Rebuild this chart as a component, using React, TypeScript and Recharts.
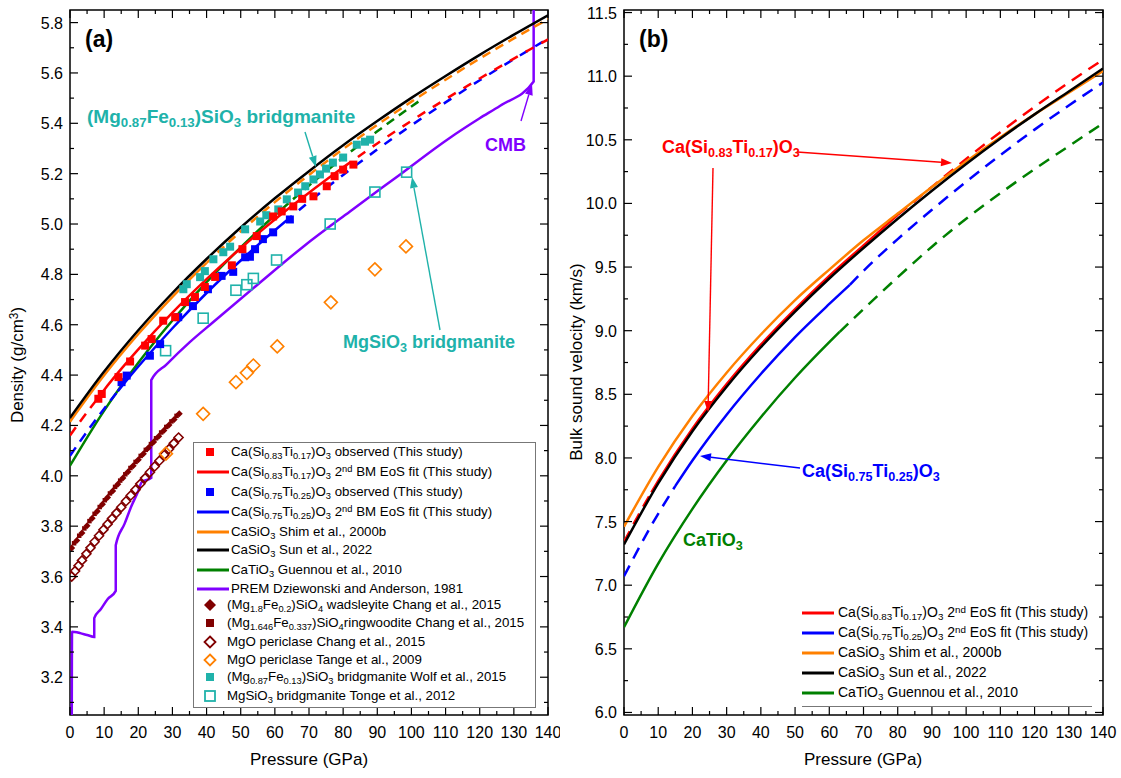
import React from 'react';
import { ComposedChart, Line, Scatter, XAxis, YAxis, ReferenceArea } from 'recharts';

type Pair = [number, number];
const FONT = '"Liberation Sans", Arial, Helvetica, sans-serif';

const RED = '#ff0000';
const BLUE = '#0000ff';
const ORANGE = '#ff8000';
const GREEN = '#008000';
const PURPLE = '#8000ff';
const TEAL = '#20b2aa';
const WINE = '#800000';

// ticks
const pTicks = [0, 5, 10, 15, 20, 25, 30, 35, 40, 45, 50, 55, 60, 65, 70, 75, 80, 85, 90, 95, 100, 105, 110, 115, 120, 125, 130, 135, 140];
const rhoTicks = [3.1, 3.2, 3.3, 3.4, 3.5, 3.6, 3.7, 3.8, 3.9, 4.0, 4.1, 4.2, 4.3, 4.4, 4.5, 4.6, 4.7, 4.8, 4.9, 5.0, 5.1, 5.2, 5.3, 5.4, 5.5, 5.6, 5.7, 5.8];
const vTicks = [6, 6.25, 6.5, 6.75, 7, 7.25, 7.5, 7.75, 8, 8.25, 8.5, 8.75, 9, 9.25, 9.5, 9.75, 10, 10.25, 10.5, 10.75, 11, 11.25, 11.5];

// ---------- (a) density (g/cm3) vs pressure (GPa) ----------
const sunRho: Pair[] = [[0, 4.23], [10, 4.414], [20, 4.578], [30, 4.726], [40, 4.861], [50, 4.986], [60, 5.102], [70, 5.21], [80, 5.313], [90, 5.409], [100, 5.501], [110, 5.588], [120, 5.672], [130, 5.752], [140, 5.829]];
const shimRhoSolid: Pair[] = [[0, 4.215], [10, 4.399], [20, 4.563], [30, 4.711], [40, 4.846]];
const shimRhoDash: Pair[] = [[40, 4.846], [50, 4.971], [60, 5.087], [70, 5.195], [80, 5.298], [90, 5.394], [100, 5.486], [110, 5.573], [120, 5.657], [130, 5.737], [140, 5.814]];
const ti17RhoLow: Pair[] = [[0, 4.16], [4, 4.235], [8, 4.305]];
const ti17RhoFit: Pair[] = [[8, 4.305], [10, 4.341], [20, 4.502], [30, 4.648], [40, 4.781], [50, 4.904], [60, 5.018], [70, 5.124], [80, 5.225]];
const ti17RhoHigh: Pair[] = [[80, 5.225], [90, 5.32], [100, 5.41], [110, 5.496], [120, 5.578], [130, 5.657], [140, 5.733]];
const ti25RhoLow: Pair[] = [[0, 4.08], [7, 4.213], [14, 4.336]];
const ti25RhoFit: Pair[] = [[14, 4.336], [20, 4.434], [30, 4.586], [40, 4.726], [50, 4.855], [60, 4.975], [65, 5.032]];
const ti25RhoHigh: Pair[] = [[65, 5.032], [70, 5.088], [80, 5.195], [90, 5.296], [100, 5.392], [110, 5.483], [120, 5.571], [130, 5.655], [140, 5.736]];
const catioRhoSolid: Pair[] = [[0, 4.04], [10, 4.259], [20, 4.449], [30, 4.617], [40, 4.769], [50, 4.907], [60, 5.035], [62, 5.059]];
const catioRhoDash: Pair[] = [[62, 5.059], [70, 5.153], [80, 5.264], [90, 5.368], [100, 5.467], [103, 5.495]];
const prem: Pair[] = [[0.5, 2.9], [0.6, 3.381], [2, 3.379], [3, 3.375], [5, 3.368], [7.1, 3.36], [7.1, 3.435], [9, 3.47], [11, 3.51], [13.4, 3.543], [13.4, 3.724], [16, 3.81], [18, 3.88], [20, 3.94], [21, 3.975], [23.8, 3.992], [23.8, 4.38], [28.3, 4.443], [35, 4.53], [41.9, 4.61], [55, 4.76], [68.3, 4.91], [82, 5.05], [96, 5.19], [111, 5.34], [120, 5.42], [126, 5.47], [135.8, 5.566], [135.8, 6.5]];

const ti17Obs: Pair[] = [[8.3, 4.306], [9.3, 4.325], [14.2, 4.392], [17.6, 4.454], [22, 4.517], [23.9, 4.543], [27.3, 4.616], [30.8, 4.63], [33.7, 4.69], [36.6, 4.71], [39.5, 4.75], [42.5, 4.79], [47.4, 4.836], [50.5, 4.9], [54.7, 4.952], [59.5, 5.03], [62, 5.05], [65.4, 5.07], [68, 5.1], [71.3, 5.11], [75.2, 5.15], [77.5, 5.19], [80, 5.216], [83, 5.236]];
const ti25Obs: Pair[] = [[15.1, 4.372], [16.6, 4.398], [23.4, 4.477], [26.4, 4.523], [31.7, 4.63], [36, 4.674], [40.4, 4.741], [44.4, 4.794], [47.8, 4.81], [51.3, 4.868], [52.7, 4.87], [54.2, 4.9], [56.5, 4.94], [59.5, 4.967], [64.4, 5.018]];
const wadsleyite: Pair[] = [[0.5, 3.713], [2, 3.743], [3.5, 3.773], [5, 3.802], [6.5, 3.831], [8, 3.859], [9.5, 3.887], [11, 3.914], [12.5, 3.94], [14, 3.966], [15.5, 3.991], [17, 4.016], [18.5, 4.04], [20, 4.064], [21.5, 4.088], [23, 4.111], [24.5, 4.134], [26, 4.157], [27.5, 4.18], [29, 4.202], [30.5, 4.224], [32, 4.246]];
const ringwoodite: Pair[] = [[1.2, 3.732], [2.7, 3.762], [4.2, 3.791], [5.7, 3.82], [7.2, 3.849], [8.7, 3.876], [10.2, 3.903], [11.7, 3.93], [13.2, 3.956], [14.7, 3.981], [16.2, 4.006], [17.7, 4.031], [19.2, 4.055], [20.7, 4.079], [22.2, 4.103], [23.7, 4.126], [25.2, 4.149], [26.7, 4.172], [28.2, 4.194], [29.7, 4.216], [31.2, 4.238]];
const mgoChang: Pair[] = [[0.5, 3.6], [1.5, 3.622], [2.5, 3.643], [3.5, 3.664], [4.8, 3.69], [6, 3.714], [7.2, 3.738], [8.5, 3.762], [9.8, 3.786], [11, 3.808], [12.3, 3.83], [13.6, 3.852], [15, 3.875], [16.4, 3.899], [17.8, 3.922], [19.2, 3.945], [20.6, 3.968], [22, 3.991], [23.4, 4.014], [24.8, 4.037], [26.2, 4.06], [27.6, 4.083], [29, 4.106], [30.4, 4.129], [31.8, 4.152]];
const mgoTange: Pair[] = [[28.1, 4.088], [39, 4.246], [48.6, 4.372], [51.8, 4.409], [53.7, 4.438], [60.7, 4.514], [76.4, 4.689], [89.3, 4.82], [98.4, 4.911]];
const bdgWolf: Pair[] = [[33.2, 4.741], [34.2, 4.761], [38.1, 4.789], [39.5, 4.813], [42, 4.86], [44.9, 4.888], [46.9, 4.91], [51.3, 4.979], [55.7, 5.01], [57.5, 5.035], [61, 5.058], [63.5, 5.098], [66.8, 5.125], [68.9, 5.15], [71.3, 5.177], [73.2, 5.197], [75, 5.22], [77, 5.244], [80, 5.264], [84, 5.315], [86.4, 5.327], [87.9, 5.335]];
const bdgTonge: Pair[] = [[28, 4.497], [39, 4.626], [48.6, 4.737], [51.8, 4.759], [53.7, 4.784], [60.5, 4.857], [76.2, 5.0], [89.3, 5.127], [98.6, 5.206]];

// ---------- (b) bulk sound velocity (km/s) vs pressure (GPa) ----------
const sunV: Pair[] = [[0, 7.32], [10, 7.8], [20, 8.21], [30, 8.56], [40, 8.87], [50, 9.15], [60, 9.41], [70, 9.65], [80, 9.88], [90, 10.1], [100, 10.31], [110, 10.51], [120, 10.7], [130, 10.88], [140, 11.06]];
const shimV: Pair[] = [[0, 7.46], [10, 7.93], [20, 8.33], [30, 8.67], [40, 8.97], [50, 9.24], [60, 9.48], [70, 9.71], [80, 9.92], [90, 10.13], [100, 10.33], [110, 10.52], [120, 10.7], [130, 10.87], [140, 11.04]];
const ti17VLow: Pair[] = [[0, 7.34], [4, 7.54], [8, 7.73]];
const ti17VFit: Pair[] = [[8, 7.73], [10, 7.82], [20, 8.23], [30, 8.58], [40, 8.89], [50, 9.17], [60, 9.43], [70, 9.67], [80, 9.91]];
const ti17VHigh: Pair[] = [[80, 9.91], [90, 10.13], [100, 10.35], [110, 10.56], [120, 10.76], [130, 10.95], [140, 11.13]];
const ti25VLow: Pair[] = [[0, 7.07], [8, 7.47], [15, 7.78]];
const ti25VFit: Pair[] = [[15, 7.78], [20, 7.98], [30, 8.34], [40, 8.66], [50, 8.95], [60, 9.21], [66, 9.36]];
const ti25VHigh: Pair[] = [[66, 9.36], [70, 9.47], [80, 9.72], [90, 9.95], [100, 10.17], [110, 10.38], [120, 10.58], [130, 10.77], [140, 10.95]];
const catioVSolid: Pair[] = [[0, 6.67], [10, 7.17], [20, 7.6], [30, 7.98], [40, 8.32], [50, 8.63], [60, 8.91], [63, 8.99]];
const catioVDash: Pair[] = [[63, 8.99], [70, 9.17], [80, 9.42], [90, 9.66], [100, 9.88], [110, 10.08], [120, 10.27], [130, 10.45], [140, 10.63]];

const xy = (a: Pair[]) => a.map(([x, y]) => ({ x, y }));

const PLOT_TOP = 10;

const xTick = (top: number) => (p: any) => {
  const v = p.payload.value;
  const major = v % 10 === 0;
  const len = major ? 8 : 4;
  return (
    <g>
      <line x1={p.x} x2={p.x} y1={p.y} y2={p.y - len} stroke="#000" strokeWidth={1.2} />
      <line x1={p.x} x2={p.x} y1={top} y2={top + len} stroke="#000" strokeWidth={1.2} />
      {major && (
        <text x={p.x} y={p.y + 23} textAnchor="middle" fontSize={16} fontFamily={FONT} fill="#000">
          {v}
        </text>
      )}
    </g>
  );
};

const yTick = (right: number, step: number) => (p: any) => {
  const v = p.payload.value;
  const major = Math.round(v / step) % 2 === 0;
  const len = major ? 8 : 4;
  return (
    <g>
      <line x1={p.x} x2={p.x + len} y1={p.y} y2={p.y} stroke="#000" strokeWidth={1.2} />
      <line x1={right} x2={right - len} y1={p.y} y2={p.y} stroke="#000" strokeWidth={1.2} />
      {major && (
        <text x={p.x - 7} y={p.y + 6} textAnchor="end" fontSize={16} fontFamily={FONT} fill="#000">
          {v.toFixed(1)}
        </text>
      )}
    </g>
  );
};

const sq = (color: string, s: number, filled = true) => (p: any) => (
  <rect x={p.cx - s / 2} y={p.cy - s / 2} width={s} height={s} fill={filled ? color : 'none'} stroke={color} strokeWidth={filled ? 0 : 1.6} />
);
const dia = (color: string, r: number, filled = true) => (p: any) => (
  <polygon
    points={`${p.cx},${p.cy - r} ${p.cx + r},${p.cy} ${p.cx},${p.cy + r} ${p.cx - r},${p.cy}`}
    fill={filled ? color : 'none'}
    stroke={color}
    strokeWidth={filled ? 0 : 1.6}
  />
);

function curve(key: string, data: Pair[], color: string, dash?: string, offset?: number) {
  return (
    <Line
      key={key}
      data={xy(data)}
      dataKey="y"
      type="monotone"
      stroke={color}
      strokeWidth={2.5}
      strokeDasharray={dash}
      strokeDashoffset={offset}
      dot={false}
      activeDot={false}
      isAnimationActive={false}
    />
  );
}

function DensityPanel() {
  const W = 560;
  const right = W - 12;
  return (
    <ComposedChart width={W} height={778} margin={{ top: PLOT_TOP, right: 12, bottom: 0, left: 0 }}>
      <XAxis dataKey="x" type="number" domain={[0, 140]} ticks={pTicks} interval={0} allowDataOverflow height={63}
        axisLine={false} tickLine={false} tickSize={0} tickMargin={0} tick={xTick(PLOT_TOP)} />
      <YAxis type="number" domain={[3.05, 5.85]} ticks={rhoTicks} interval={0} allowDataOverflow width={70}
        axisLine={false} tickLine={false} tickSize={0} tickMargin={0} tick={yTick(right, 0.1)} />
      <ReferenceArea x1={0} x2={140} y1={3.05} y2={5.85} fill="none" stroke="#000" strokeWidth={1.5} ifOverflow="visible" />
      {curve('prem', prem, PURPLE)}
      {curve('catioS', catioRhoSolid, GREEN)}
      {curve('catioD', catioRhoDash, GREEN, '9 6')}
      {curve('shimS', shimRhoSolid, ORANGE)}
      {curve('shimD', shimRhoDash, ORANGE, '9 6')}
      {curve('sun', sunRho, '#000')}
      {curve('t25L', ti25RhoLow, BLUE, '10 7')}
      {curve('t25F', ti25RhoFit, BLUE)}
      {curve('t25H', ti25RhoHigh, BLUE, '9 9', 9)}
      {curve('t17L', ti17RhoLow, RED, '10 7')}
      {curve('t17F', ti17RhoFit, RED)}
      {curve('t17H', ti17RhoHigh, RED, '9 9')}
      <Scatter data={xy(wadsleyite)} dataKey="y" shape={dia(WINE, 3.5)} isAnimationActive={false} />
      <Scatter data={xy(ringwoodite)} dataKey="y" shape={sq(WINE, 4.5)} isAnimationActive={false} />
      <Scatter data={xy(mgoChang)} dataKey="y" shape={dia(WINE, 4.5, false)} isAnimationActive={false} />
      <Scatter data={xy(mgoTange)} dataKey="y" shape={dia(ORANGE, 6.5, false)} isAnimationActive={false} />
      <Scatter data={xy(bdgTonge)} dataKey="y" shape={sq(TEAL, 10, false)} isAnimationActive={false} />
      <Scatter data={xy(bdgWolf)} dataKey="y" shape={sq(TEAL, 8)} isAnimationActive={false} />
      <Scatter data={xy(ti25Obs)} dataKey="y" shape={sq(BLUE, 8)} isAnimationActive={false} />
      <Scatter data={xy(ti17Obs)} dataKey="y" shape={sq(RED, 8)} isAnimationActive={false} />
    </ComposedChart>
  );
}

function VelocityPanel() {
  const W = 561;
  const right = W - 18;
  return (
    <ComposedChart width={W} height={778} margin={{ top: PLOT_TOP, right: 18, bottom: 0, left: 0 }}>
      <XAxis dataKey="x" type="number" domain={[0, 140]} ticks={pTicks} interval={0} allowDataOverflow height={63}
        axisLine={false} tickLine={false} tickSize={0} tickMargin={0} tick={xTick(PLOT_TOP)} />
      <YAxis type="number" domain={[5.98, 11.52]} ticks={vTicks} interval={0} allowDataOverflow width={64}
        axisLine={false} tickLine={false} tickSize={0} tickMargin={0} tick={yTick(right, 0.25)} />
      <ReferenceArea x1={0} x2={140} y1={5.98} y2={11.52} fill="none" stroke="#000" strokeWidth={1.5} ifOverflow="visible" />
      {curve('catioS', catioVSolid, GREEN)}
      {curve('catioD', catioVDash, GREEN, '12 8')}
      {curve('t25L', ti25VLow, BLUE, '12 8')}
      {curve('t25F', ti25VFit, BLUE)}
      {curve('t25H', ti25VHigh, BLUE, '12 8')}
      {curve('t17L', ti17VLow, RED, '12 8')}
      {curve('t17F', ti17VFit, RED)}
      {curve('t17H', ti17VHigh, RED, '12 8')}
      {curve('shim', shimV, ORANGE)}
      {curve('sun', sunV, '#000')}
    </ComposedChart>
  );
}

const S = ({ children }: { children: React.ReactNode }) => (
  <sub style={{ fontSize: '0.7em', verticalAlign: '-0.3em', lineHeight: 0 }}>{children}</sub>
);
const Sup = ({ children }: { children: React.ReactNode }) => (
  <sup style={{ fontSize: '0.7em', verticalAlign: '0.45em', lineHeight: 0 }}>{children}</sup>
);

function Sample({ x, y, kind, color }: { x: number; y: number; kind: string; color: string }) {
  return (
    <svg width={34} height={14} style={{ position: 'absolute', left: x, top: y - 7 }}>
      {kind === 'line' && <line x1={0} x2={32} y1={7} y2={7} stroke={color} strokeWidth={3} />}
      {kind === 'sq' && <rect x={9} y={3} width={8} height={8} fill={color} />}
      {kind === 'osq' && <rect x={8} y={2} width={10} height={10} fill="none" stroke={color} strokeWidth={1.8} />}
      {kind === 'dia' && <polygon points="13,1 19,7 13,13 7,7" fill={color} />}
      {kind === 'odia' && <polygon points="13,1.5 18.5,7 13,12.5 7.5,7" fill="none" stroke={color} strokeWidth={1.8} />}
    </svg>
  );
}

function Row({ y, x, size, children }: { y: number; x: number; size: number; children: React.ReactNode }) {
  return (
    <div style={{ position: 'absolute', left: x, top: y - size * 0.62, fontSize: size, lineHeight: `${size * 1.2}px`, whiteSpace: 'nowrap', color: '#000' }}>
      {children}
    </div>
  );
}

function Arrow({ x1, y1, x2, y2, color }: { x1: number; y1: number; x2: number; y2: number; color: string }) {
  const a = Math.atan2(y2 - y1, x2 - x1);
  const L = 11;
  const Wd = 4;
  const bx = x2 - L * Math.cos(a);
  const by = y2 - L * Math.sin(a);
  const px = -Math.sin(a) * Wd;
  const py = Math.cos(a) * Wd;
  return (
    <g>
      <line x1={x1} y1={y1} x2={bx} y2={by} stroke={color} strokeWidth={1.4} />
      <polygon points={`${x2},${y2} ${bx + px},${by + py} ${bx - px},${by - py}`} fill={color} />
    </g>
  );
}

const note = (left: number, top: number, color: string, size = 18): React.CSSProperties => ({
  position: 'absolute', left, top, color, fontSize: size, fontWeight: 'bold', whiteSpace: 'nowrap', lineHeight: `${size * 1.2}px`,
});

export default function App() {
  return (
    <div style={{ position: 'absolute', left: 0, top: 0, width: 1121, height: 778, background: '#fff', fontFamily: FONT, overflow: 'hidden' }}>
      <style>{'body{margin:0}'}</style>
      <div style={{ position: 'absolute', left: 0, top: 0 }}>
        <DensityPanel />
      </div>
      <div style={{ position: 'absolute', left: 560, top: 0 }}>
        <VelocityPanel />
      </div>

      {/* axis titles */}
      <div style={{ position: 'absolute', left: 309, top: 750, transform: 'translateX(-50%)', fontSize: 17, whiteSpace: 'nowrap' }}>Pressure (GPa)</div>
      <div style={{ position: 'absolute', left: 863, top: 750, transform: 'translateX(-50%)', fontSize: 17, whiteSpace: 'nowrap' }}>Pressure (GPa)</div>
      <div style={{ position: 'absolute', left: 18, top: 365, transform: 'translate(-50%,-50%) rotate(-90deg)', fontSize: 17, whiteSpace: 'nowrap' }}>
        Density (g/cm<Sup>3</Sup>)
      </div>
      <div style={{ position: 'absolute', left: 577, top: 362, transform: 'translate(-50%,-50%) rotate(-90deg)', fontSize: 17, whiteSpace: 'nowrap' }}>
        Bulk sound velocity (km/s)
      </div>

      {/* panel labels and annotations */}
      <div style={note(85, 26, '#000', 23)}>(a)</div>
      <div style={note(639, 26, '#000', 23)}>(b)</div>
      <div style={note(87, 106, TEAL, 19)}>(Mg<S>0.87</S>Fe<S>0.13</S>)SiO<S>3</S> bridgmanite</div>
      <div style={note(343, 332, TEAL)}>MgSiO<S>3</S> bridgmanite</div>
      <div style={note(485, 135, PURPLE)}>CMB</div>
      <div style={note(662, 137, RED)}>Ca(Si<S>0.83</S>Ti<S>0.17</S>)O<S>3</S></div>
      <div style={note(802, 461, BLUE)}>Ca(Si<S>0.75</S>Ti<S>0.25</S>)O<S>3</S></div>
      <div style={note(683, 530, GREEN)}>CaTiO<S>3</S></div>

      <svg width={1121} height={778} style={{ position: 'absolute', left: 0, top: 0, pointerEvents: 'none' }}>
        <Arrow x1={305} y1={132} x2={316} y2={167} color={TEAL} />
        <Arrow x1={440} y1={330} x2={412} y2={177} color={TEAL} />
        <Arrow x1={521} y1={121} x2={532} y2={84} color={PURPLE} />
        <Arrow x1={797} y1={152} x2={952} y2={163} color={RED} />
        <Arrow x1={713} y1={168} x2={708} y2={412} color={RED} />
        <Arrow x1={800} y1={468} x2={700} y2={456} color={BLUE} />
        {/* legend frames */}
        <rect x={193.5} y={442.5} width={342} height={265} fill="none" stroke="#777" strokeWidth={1} />
        <line x1={802} x2={1092} y1={706.5} y2={706.5} stroke="#777" strokeWidth={1} />
      </svg>

      {/* legend (a) */}
      <Sample x={197} y={452} kind="sq" color={RED} />
      <Row x={231} y={452} size={13.3}>Ca(Si<S>0.83</S>Ti<S>0.17</S>)O<S>3</S> observed (This study)</Row>
      <Sample x={197} y={472} kind="line" color={RED} />
      <Row x={231} y={472} size={13.3}>Ca(Si<S>0.83</S>Ti<S>0.17</S>)O<S>3</S> 2<Sup>nd</Sup> BM EoS fit (This study)</Row>
      <Sample x={197} y={492} kind="sq" color={BLUE} />
      <Row x={231} y={492} size={13.3}>Ca(Si<S>0.75</S>Ti<S>0.25</S>)O<S>3</S> observed (This study)</Row>
      <Sample x={197} y={512} kind="line" color={BLUE} />
      <Row x={231} y={512} size={13.3}>Ca(Si<S>0.75</S>Ti<S>0.25</S>)O<S>3</S> 2<Sup>nd</Sup> BM EoS fit (This study)</Row>
      <Sample x={197} y={532} kind="line" color={ORANGE} />
      <Row x={231} y={532} size={13.3}>CaSiO<S>3</S> Shim et al., 2000b</Row>
      <Sample x={197} y={550} kind="line" color="#000" />
      <Row x={231} y={550} size={13.3}>CaSiO<S>3</S> Sun et al., 2022</Row>
      <Sample x={197} y={570} kind="line" color={GREEN} />
      <Row x={231} y={570} size={13.3}>CaTiO<S>3</S> Guennou et al., 2010</Row>
      <Sample x={197} y={589} kind="line" color={PURPLE} />
      <Row x={231} y={589} size={13.3}>PREM Dziewonski and Anderson, 1981</Row>
      <Sample x={197} y={605} kind="dia" color={WINE} />
      <Row x={227} y={605} size={13.3}>(Mg<S>1.8</S>Fe<S>0.2</S>)SiO<S>4</S> wadsleyite Chang et al., 2015</Row>
      <Sample x={197} y={623} kind="sq" color={WINE} />
      <Row x={227} y={623} size={13.3}>(Mg<S>1.646</S>Fe<S>0.337</S>)SiO<S>4</S>ringwoodite Chang et al., 2015</Row>
      <Sample x={197} y={642} kind="odia" color={WINE} />
      <Row x={227} y={642} size={13.3}>MgO periclase Chang et al., 2015</Row>
      <Sample x={197} y={660} kind="odia" color={ORANGE} />
      <Row x={227} y={660} size={13.3}>MgO periclase Tange et al., 2009</Row>
      <Sample x={197} y={677} kind="sq" color={TEAL} />
      <Row x={227} y={677} size={13.3}>(Mg<S>0.87</S>Fe<S>0.13</S>)SiO<S>3</S> bridgmanite Wolf et al., 2015</Row>
      <Sample x={197} y={696} kind="osq" color={TEAL} />
      <Row x={227} y={696} size={13.3}>MgSiO<S>3</S> bridgmanite Tonge et al., 2012</Row>

      {/* legend (b) */}
      <Sample x={802} y={613} kind="line" color={RED} />
      <Row x={838} y={613} size={14}>Ca(Si<S>0.83</S>Ti<S>0.17</S>)O<S>3</S> 2<Sup>nd</Sup> EoS fit (This study)</Row>
      <Sample x={802} y={633} kind="line" color={BLUE} />
      <Row x={838} y={633} size={14}>Ca(Si<S>0.75</S>Ti<S>0.25</S>)O<S>3</S> 2<Sup>nd</Sup> EoS fit (This study)</Row>
      <Sample x={802} y={653} kind="line" color={ORANGE} />
      <Row x={838} y={653} size={14}>CaSiO<S>3</S> Shim et al., 2000b</Row>
      <Sample x={802} y={673} kind="line" color="#000" />
      <Row x={838} y={673} size={14}>CaSiO<S>3</S> Sun et al., 2022</Row>
      <Sample x={802} y={693} kind="line" color={GREEN} />
      <Row x={838} y={693} size={14}>CaTiO<S>3</S> Guennou et al., 2010</Row>
    </div>
  );
}
